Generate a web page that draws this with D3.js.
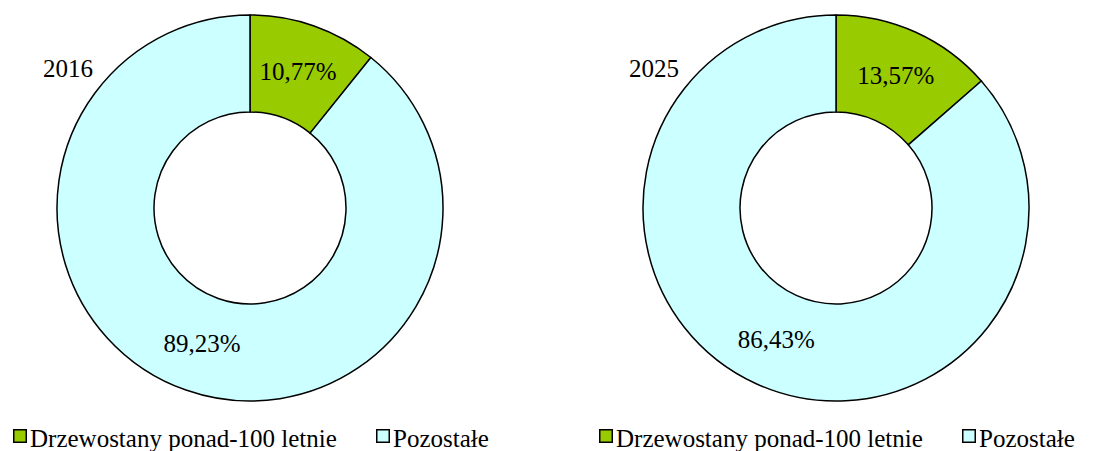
<!DOCTYPE html>
<html>
<head>
<meta charset="utf-8">
<script src="https://cdn.jsdelivr.net/npm/d3@7"></script>
</head>
<body style="margin:0">
<svg id="chart" width="1105" height="451"></svg>
<script>
// Share of stands older than 100 years vs. remaining stands
const years = ["2016", "2025"];
const categories = ["Drzewostany ponad-100 letnie", "Pozostałe"];
const values2016 = [10.77, 89.23];
const values2025 = [13.57, 86.43];
const seriesValues = [values2016, values2025];
const colors = ["#99CC00", "#CCFFFF"];

const FONT = "Liberation Serif";
const FS = 25;

const svg = d3.select("#chart");
const panelCenters = [250, 836];
const cy = 208;
const outerR = 193;
const innerR = 96;

const fmt = v => d3.format(".2f")(v).replace(".", ",") + "%";

const pie = d3.pie().sort(null).value(d => d);
const arc = d3.arc().innerRadius(innerR).outerRadius(outerR);

seriesValues.forEach((vals, i) => {
  const cx = panelCenters[i];
  const g = svg.append("g").attr("transform", `translate(${cx},${cy})`);
  const arcs = pie(vals);

  g.selectAll("path")
    .data(arcs)
    .join("path")
    .attr("d", arc)
    .attr("fill", (d, j) => colors[j])
    .attr("stroke", "#000")
    .attr("stroke-width", 1.5);

  arcs.forEach(d => {
    const [lx, ly] = arc.centroid(d);
    g.append("text")
      .attr("x", lx)
      .attr("y", ly + 8)
      .attr("text-anchor", "middle")
      .attr("font-family", FONT)
      .attr("font-size", FS)
      .text(fmt(d.data));
  });

  // Year title at the upper left of each ring
  svg.append("text")
    .attr("x", cx - 207)
    .attr("y", 77)
    .attr("font-family", FONT)
    .attr("font-size", FS)
    .text(years[i]);

  // Legend row under each ring
  const entryX = [0, 363];
  categories.forEach((c, j) => {
    const x0 = cx - 237 + entryX[j];
    svg.append("rect")
      .attr("x", x0 + 0.75).attr("y", 429.75)
      .attr("width", 12.5).attr("height", 12.5)
      .attr("fill", colors[j])
      .attr("stroke", "#000")
      .attr("stroke-width", 1.5);
    svg.append("text")
      .attr("x", x0 + 17)
      .attr("y", 447)
      .attr("font-family", FONT)
      .attr("font-size", FS)
      .text(c);
  });
});
</script>
</body>
</html>
